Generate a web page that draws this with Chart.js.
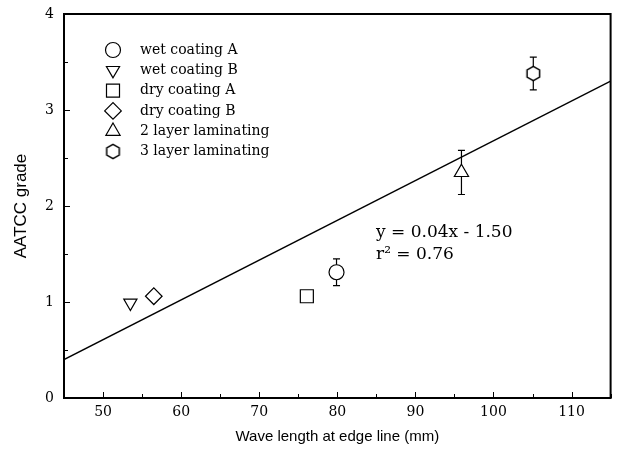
<!DOCTYPE html>
<html>
<head>
<meta charset="utf-8">
<script src="https://cdn.jsdelivr.net/npm/chart.js@4.4.0/dist/chart.umd.min.js"></script>
<style>
    html, body { margin: 0; padding: 0; background: #fff; }
</style>
</head>
<body>
<canvas id="grafico" width="621" height="459"></canvas>
<script>
// datos
const seriesNames = ['wet coating A', 'wet coating B', 'dry coating A', 'dry coating B', '2 layer laminating', '3 layer laminating'];
const waveLength = [79.9, 53.5, 76.1, 56.5, 95.9, 105.1];
const grade = [1.31, 0.99, 1.06, 1.06, 2.35, 3.38];
const gradeErr = [0.14, 0, 0, 0, 0.23, 0.17];
const fitX = [45, 115];
const fitY = [0.40, 3.30];
const xTicks = [50, 60, 70, 80, 90, 100, 110];
const yTicks = [0, 1, 2, 3, 4];
const equationLines = ['y = 0.04x - 1.50', 'r\u00B2 = 0.76'];

const serif = '"DejaVu Serif", "Liberation Serif", serif';
const sans = '"Liberation Sans", Arial, sans-serif';

// hexagono para "3 layer laminating"
function hacerHexagono() {
    const c = document.createElement('canvas');
    c.width = 17; c.height = 17;
    const g = c.getContext('2d');
    g.beginPath();
    for (let i = 0; i < 6; i++) {
        const a = Math.PI / 3 * i;
        const px = 8.5 + Math.sin(a) * 7.2;
        const py = 8.5 - Math.cos(a) * 7.2;
        if (i === 0) g.moveTo(px, py); else g.lineTo(px, py);
    }
    g.closePath();
    g.fillStyle = '#fff';
    g.fill();
    g.lineWidth = 1.5;
    g.strokeStyle = '#000';
    g.stroke();
    return c;
}
const hexagono = hacerHexagono();

const estilos = [
    { pointStyle: 'circle', radius: 7.5, rotation: 0 },
    { pointStyle: 'triangle', radius: 7.6, rotation: 180 },
    { pointStyle: 'rect', radius: 9.2, rotation: 0 },
    { pointStyle: 'rectRot', radius: 8.3, rotation: 0 },
    { pointStyle: 'triangle', radius: 8.2, rotation: 0 },
    { pointStyle: hexagono, radius: 8, rotation: 0 }
];

const datasets = seriesNames.map((name, i) => ({
    type: 'scatter',
    label: name,
    data: [{ x: waveLength[i], y: grade[i] }],
    pointStyle: estilos[i].pointStyle,
    pointRadius: estilos[i].radius,
    pointRotation: estilos[i].rotation,
    pointBackgroundColor: '#fff',
    pointBorderColor: '#000',
    pointBorderWidth: 1.2
}));

datasets.push({
    type: 'line',
    label: 'fit',
    data: fitX.map((x, i) => ({ x: x, y: fitY[i] })),
    borderColor: '#000',
    borderWidth: 1.3,
    pointRadius: 0,
    fill: false
});

const barrasError = {
    id: 'barrasError',
    beforeDatasetsDraw(chart) {
        const ctx = chart.ctx;
        const xs = chart.scales.x, ys = chart.scales.y;
        ctx.save();
        ctx.strokeStyle = '#000';
        ctx.lineWidth = 1.2;
        for (let i = 0; i < seriesNames.length; i++) {
            if (!gradeErr[i]) continue;
            const px = xs.getPixelForValue(waveLength[i]);
            const top = ys.getPixelForValue(grade[i] + gradeErr[i]);
            const bot = ys.getPixelForValue(grade[i] - gradeErr[i]);
            ctx.beginPath();
            ctx.moveTo(px, top); ctx.lineTo(px, bot);
            ctx.moveTo(px - 3.5, top); ctx.lineTo(px + 3.5, top);
            ctx.moveTo(px - 3.5, bot); ctx.lineTo(px + 3.5, bot);
            ctx.stroke();
        }
        ctx.restore();
    }
};

const marco = {
    id: 'marco',
    afterDraw(chart) {
        const ctx = chart.ctx;
        const a = chart.chartArea;
        const xs = chart.scales.x, ys = chart.scales.y;
        ctx.save();
        ctx.strokeStyle = '#000';
        ctx.lineWidth = 1;
        // marcas hacia dentro
        ctx.beginPath();
        for (let v = 45; v <= 115; v += 5) {
            const px = Math.round(xs.getPixelForValue(v)) + 0.5;
            const len = v % 10 === 0 ? 6 : 4;
            ctx.moveTo(px, a.bottom); ctx.lineTo(px, a.bottom - len);
        }
        for (let v = 0; v <= 4; v += 0.5) {
            const py = Math.round(ys.getPixelForValue(v)) + 0.5;
            const len = v % 1 === 0 ? 6 : 4;
            ctx.moveTo(a.left, py); ctx.lineTo(a.left + len, py);
        }
        ctx.stroke();
        ctx.lineWidth = 2;
        ctx.strokeRect(a.left, a.top, a.right - a.left, a.bottom - a.top);

        // leyenda
        ctx.font = '14px ' + serif;
        ctx.textBaseline = 'middle';
        ctx.fillStyle = '#000';
        for (let i = 0; i < seriesNames.length; i++) {
            const ly = 50 + i * 20.3;
            ctx.save();
            ctx.fillStyle = '#fff';
            ctx.strokeStyle = '#000';
            ctx.lineWidth = 1.2;
            Chart.helpers.drawPoint(ctx, {
                pointStyle: estilos[i].pointStyle,
                rotation: estilos[i].rotation,
                radius: estilos[i].radius,
                borderWidth: 1.2
            }, 113, ly);
            ctx.restore();
            ctx.fillText(seriesNames[i], 140, ly);
        }

        // ecuacion
        ctx.font = '17px ' + serif;
        equationLines.forEach((t, i) => ctx.fillText(t, 376, 233 + i * 22));
        ctx.restore();
    }
};

// quitar el relleno automatico de las escalas
function sinRelleno(s) {
    s.paddingTop = 0; s.paddingBottom = 0; s.paddingLeft = 0; s.paddingRight = 0;
    if (s._margins) {
        s._margins.left = 0; s._margins.right = 0; s._margins.top = 0; s._margins.bottom = 0;
    }
}

new Chart(document.getElementById('grafico'), {
    data: { datasets: datasets },
    options: {
        responsive: false,
        animation: false,
        events: [],
        layout: { padding: { top: 14, right: 5, left: 0, bottom: 0 } },
        plugins: { legend: { display: false }, tooltip: { enabled: false } },
        scales: {
            x: {
                type: 'linear',
                min: 45,
                max: 115,
                afterBuildTicks: s => { s.ticks = xTicks.map(v => ({ value: v })); },
                afterFit: s => { s.height = 61; sinRelleno(s); },
                grid: { display: false, drawTicks: false },
                border: { display: false },
                ticks: { color: '#000', padding: 6, font: { family: serif, size: 14 } },
                title: {
                    display: true,
                    text: 'Wave length at edge line (mm)',
                    color: '#000',
                    font: { family: sans, size: 15 },
                    padding: { top: 0, bottom: 13 }
                }
            },
            y: {
                type: 'linear',
                min: 0,
                max: 4,
                afterBuildTicks: s => { s.ticks = yTicks.map(v => ({ value: v })); },
                afterFit: s => { s.width = 64; sinRelleno(s); },
                grid: { display: false, drawTicks: false },
                border: { display: false },
                ticks: { color: '#000', padding: 10, font: { family: serif, size: 14 } },
                title: {
                    display: true,
                    text: 'AATCC grade',
                    color: '#000',
                    font: { family: sans, size: 17 },
                    padding: { top: 11, bottom: 0 }
                }
            }
        }
    },
    plugins: [barrasError, marco]
});
</script>
</body>
</html>
